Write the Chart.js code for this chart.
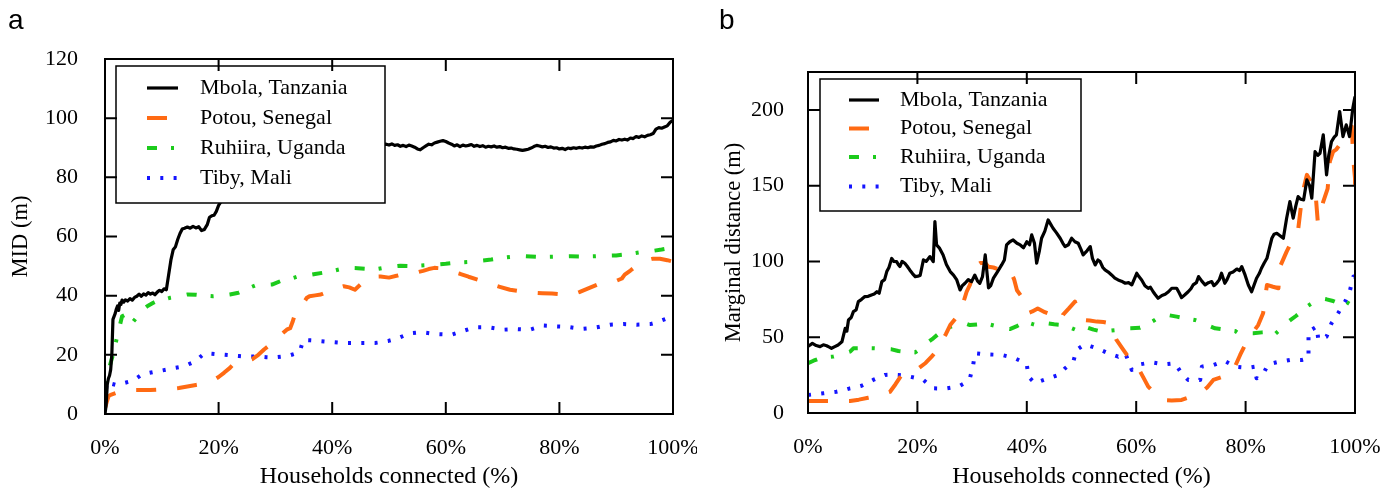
<!DOCTYPE html>
<html>
<head>
<meta charset="utf-8">
<script src="https://cdn.jsdelivr.net/npm/chart.js@4.4.1/dist/chart.umd.min.js"></script>
<style>
  body { margin: 0; background: #fff; }
  #wrap { position: relative; width: 1394px; height: 491px; }
  canvas { position: absolute; top: 0; }
  .tag { position: absolute; font: 28px "Liberation Sans", Arial, sans-serif; line-height: 28px; color: #000; }
</style>
</head>
<body>
<div id="wrap">
  <canvas id="chartA" width="697" height="491" style="left:0"></canvas>
  <canvas id="chartB" width="697" height="491" style="left:697px"></canvas>
  <div class="tag" style="left:8px;top:6px">a</div>
  <div class="tag" style="left:719px;top:6px">b</div>
</div>
<script>
// series names
var seriesNames = ["Mbola, Tanzania", "Potou, Senegal", "Ruhiira, Uganda", "Tiby, Mali"];

// x tick values (households connected, %)
var xTicks = [0, 20, 40, 60, 80, 100];
var yTicksA = [0, 20, 40, 60, 80, 100, 120];
var yTicksB = [0, 50, 100, 150, 200];

// ---- panel a : MID (m) ----
var mbolaA_x = [0,0.2,0.4,0.6,0.8,1.0,1.2,1.4,1.6,1.8,2.0,2.2,2.4,2.6,2.8,3.0,3.3,3.6,4.0,4.4,4.8,5.2,5.6,6.0,6.4,6.8,7.2,7.6,8.0,8.4,8.8,9.2,9.6,10.0,10.4,10.8,11.2,11.6,12.0,12.4,12.8,13.2,13.6,14.0,14.5,15,15.5,16,16.5,17,17.5,18,18.4,18.8,19.2,19.6,20,20.5,21,22,25,30,35,40,45,48,
  49.5,50,50.5,51,51.5,52,52.5,53,53.5,54,54.5,55,55.5,56,56.5,57,57.5,58,58.5,59,59.5,60,60.5,61,61.5,62,62.5,63,63.5,64,64.5,65,65.5,66,66.5,67,67.5,68,68.5,69,69.5,70,70.5,71,71.5,72,72.5,73,73.5,74,74.5,75,75.5,76,76.5,77,77.5,78,78.5,79,79.5,80,80.5,81,81.5,82,82.5,83,83.5,84,84.5,85,85.5,86,86.5,87,87.5,88,88.5,89,89.5,90,90.5,91,91.5,92,92.5,93,93.5,94,94.5,95,95.5,96,96.5,97,97.5,98,98.5,99,99.5,100];
var mbolaA_y = [0,3,10,12,13,15,20,32,33,34,35.5,36.5,35,37.5,37,38.5,37.8,38.6,38.2,39,38.5,39.4,39.8,40.5,39.8,40.6,40.2,41,40.5,40.9,40.3,41.2,41.8,41.4,42.3,42,47,52,55.5,56.5,59,61,62.5,62.8,63.2,62.8,63.4,62.9,63.3,62,62.4,64,66.5,67,67.2,68.5,70.5,72,74,75.5,78,83,86,88,90,91,
  91.2,90.9,91.3,90.8,91,90.5,90.8,90.4,90.9,90.6,90.2,89.6,89.3,90,90.6,91.2,91,91.6,91.9,92.2,92.4,92.1,91.6,91.2,90.6,91,90.4,90.9,90.6,90.8,91.1,90.5,90.8,90.4,90.7,90.2,90.5,90.3,90.6,90.2,90.4,90,90.2,89.8,89.9,89.6,89.5,89.3,89.1,89.3,89.5,89.9,90.4,90.8,90.6,90.3,90.5,90.1,90.3,89.9,90,89.6,89.8,89.4,89.9,89.7,90,89.8,90.1,89.9,90.2,90,90.3,90.2,90.6,90.8,91.2,91.4,91.8,92,92.5,92.3,92.8,92.6,92.9,92.6,93.3,93.1,93.8,93.5,94,93.7,94.2,94.4,94.8,96.3,96.8,96.6,97,97.4,98.6,99.3];

var potouA_x = [0,0.3,0.6,1,2,3,4,5,6,8,9,10,11.5,13,14.5,16,17.5,19,20,21,22,22.5,23.5,24.5,25.5,26,27,28,29,30,31,32,32.6,33,33.5,34.2,35,35.5,36,37,38,39,40.5,42,43,44,45,46,47,48.5,50,51.5,53,54,55,56,57,58,59.5,61,62.5,64,66,67.8,69.5,71.3,73,75,77,78.7,80.5,82.2,83.5,85.4,87,88.6,90,91,91.5,92.5,93.5,94.5,95.5,96.5,97.7,99,100];
var potouA_y = [2,4,5.9,6.5,7.2,7.6,7.9,8.1,8.1,8.1,8.2,8.3,8.5,8.8,9.3,9.8,10.3,11.3,12.5,14,15.6,16.6,17.5,18,18.3,18.6,20,21.8,23.3,24.5,26.8,28.5,29,31,34,36,37.6,39.2,39.8,40.1,40.4,41.2,42.4,43.2,42.8,42,43.8,45.3,46.4,46.5,46.1,46.8,47.6,48,47.9,48.4,49,49.4,49.2,48.2,47.4,46.4,45.2,44,43,42,41.5,41,40.8,40.7,40.4,40.3,41.2,42.7,44,44.8,45,45.8,47.1,48.5,50,51.2,52,52.5,52.5,52,51.5];

var ruhiiraA_x = [0,0.3,0.8,1.5,2,2.5,3,3.5,4,4.5,5,5.7,6.5,7.5,8.5,9.5,10.5,11.5,13,14.5,16,17.5,19,20.5,22,23.5,25,26.5,28,29.5,31,32.5,34,35.5,37,38.5,40,41.5,43,44.5,46,47.5,49,50.5,52,53.5,55,56.5,58,60,62,64,66,68,70,72,74,76,78,80,82,84,86,88,90,92,94,96,98,100];
var ruhiiraA_y = [2,11.5,16,20.7,25,29,33,33.5,32,30.8,31.3,33,35,36.5,37.6,38.5,38.8,39.3,39.8,40.4,40.3,40,39.8,40,40.4,41,42.3,43.5,43.6,43.8,45,45.6,46.5,46.8,47.3,47.8,48.3,49,49.4,49.3,49.1,48.9,49.4,49.8,50.1,50,50.1,50.3,50.5,50.8,51.2,51.4,51.8,52.2,52.8,53.2,53.3,53.1,53.1,53.2,53.3,53.2,53.3,53.5,53.6,54,54.6,55,55.6,56.3];

var tibyA_x = [0,0.3,1,2,3,4.4,5.5,6.4,7.5,8.8,10,11.1,12.3,13.5,14.7,15.8,16.7,17.6,18.8,19.9,21,22.3,23.6,24.9,26,27.3,28.4,29.6,31,32.3,33.5,34.3,34.9,36.2,37.6,38.8,39.9,41.2,42.5,43.7,44.9,46.2,47.5,48.7,49.9,51,51.9,52.8,53.7,54.8,56,57.2,58.4,59.7,61,62,63.1,64.1,65.1,66.3,67.5,68.8,70.1,71.3,72.5,73.6,74.8,76,77.2,78.3,79.5,80.7,81.9,83,84.2,85.4,86.6,87.8,88.9,90.1,91.3,92.5,93.6,94.8,96,97,98,99,100];
var tibyA_y = [4,10.9,10.3,9.8,10.3,11,12,13.2,13.8,14.3,14.7,15.1,15.6,16,16.8,17.7,19.2,20.6,20.4,20.2,20,19.8,19.6,19.4,19.4,19.4,19.2,19.1,19.4,19.7,20.4,21.1,25,24.9,24.7,24.5,24.3,24.1,24,24,24,24,24,24.3,24.7,25.3,25.9,26.6,27.3,27.5,27.6,27.3,27,26.9,26.8,27.4,28.1,28.7,29.3,29.3,29.3,28.9,28.5,28.6,28.7,28.6,28.5,29.2,29.9,29.8,29.6,29.5,29.3,29,28.8,29,29.3,29.8,30.2,30.3,30.4,30.3,30.2,30.3,30.4,30.9,31.6,32.3,33];

// ---- panel b : marginal distance (m) ----
var mbolaB_x = [0,0.4,0.8,1.5,2.2,2.8,3.4,3.9,4.3,4.9,5.5,6.2,6.8,7.1,7.4,7.9,8.3,8.8,9.2,9.8,10.4,11,11.6,12.1,12.6,13,13.5,14,14.4,14.8,15.3,15.7,16.2,16.5,16.8,17.2,17.7,18.1,18.6,19.1,19.6,20.1,20.5,21.1,21.6,22.3,22.9,23.2,23.5,24,24.7,25.3,26,26.6,27.2,27.8,28.2,28.7,29.3,29.9,30.5,31,31.4,31.9,32.4,33,33.4,33.9,34.6,35.4,35.9,36.3,36.9,37.5,38.2,38.8,39.4,40,40.5,40.9,41.4,41.8,42.3,42.7,43.3,43.9,44.3,44.8,45.4,46.1,46.6,47,47.6,48.2,48.8,49.4,49.9,50.3,51,51.6,52,52.5,53,53.4,53.9,54.3,54.9,55.5,56.1,56.7,57.3,58,58.6,59.2,60.1,60.5,61,61.6,62.2,62.6,63.1,63.5,64,64.7,65.3,65.9,66.5,67.4,67.9,68.3,68.9,69.5,70,70.4,71,71.4,72,72.6,73.2,73.8,74.2,74.7,75.2,75.6,76.2,76.6,77.1,77.7,78.4,78.9,79.3,79.9,80.5,81.1,81.5,82,82.5,82.9,83.4,83.9,84.3,84.8,85.2,85.7,86.3,86.9,87.5,88.1,88.7,89.2,89.6,90.1,90.6,91.2,91.7,92.1,92.7,93.2,93.6,94.2,94.8,95.2,95.7,96.2,96.6,97.2,97.8,98.4,99,99.6,100];
var mbolaB_y = [44,44.9,46,44.5,43.8,45,44.4,43.5,42.7,43.8,44.9,47,55.9,54,61.4,63,66.9,68,73.5,75,76.8,77,77.9,78.5,80,79,86.7,88,93.3,96,102,100,99.9,98,96.6,100,98.8,97,94.4,92,90,90.3,90.7,101,100,103.2,99.9,126.3,110.9,109,104.3,98,93.3,91,87.8,81.2,84,85.6,88,86.7,91,87,85.6,90,104.3,82.5,84,89,93,97.7,101,110.9,113,114.2,112,110.9,109,113,111,117.5,112,98.8,107,115.3,120,127.4,125,121.9,119,115.3,112,109.8,111,115.3,113,112,108,104.3,107,109.8,102,97.7,101,99.9,96,94.4,93,91.1,89,87.8,87,85.6,86,84.5,92.2,90,87.8,84,82.3,83,80,78,75.7,77.5,78.3,80,82.3,82.3,79,76.1,78,80,82,84.5,86,90,87,84.5,86,86.7,84,85.6,88,92.2,85.6,88,92.2,93,95,94,96.6,91.1,84.5,80,84,88.9,92,95.5,99,102.1,108,115.3,118,118.6,117,115.3,128.5,139.5,128.5,137,142.8,141,140.6,153.8,150,141.7,172.5,170,171.4,183.5,157.1,170,179.1,182,183.5,198.9,182.4,190.1,182.4,201.1,208.8];

var potouB_x = [0,2,3.7,5.5,7.7,9.3,11,13,15,16,17.1,18.5,20.2,21.5,22.6,23.5,24.4,25.2,26,26.9,27.8,28.4,29,29.6,30.5,31.5,32.4,33,33.9,34.7,35.7,36.5,37.2,37.7,38.2,39,39.7,40.3,41,42,43.3,44.6,45.5,46.4,46.6,47.7,48.8,49.5,50.3,51.5,52.8,54,55.2,55.8,56.4,57.4,58.3,59.3,60.4,61.3,62.2,63.4,64.7,66.5,68.3,70,71.7,73,74.1,75.8,77.5,79,80.5,81.4,82.3,83.2,83.9,85,86,86.3,87.5,88.4,89,89.6,90.4,91.2,91.9,92.7,93.2,94.2,95,95.4,96,96.6,97.2,97.8,98.6,99.4,99.7,100,100,100];
var potouB_y = [8,7.9,7.9,7.9,7.9,8.8,10.1,11.5,14,19,25.1,27.5,29.5,33,37.2,41,47,52,58,62,66.9,73,80,84.5,96.6,99,99,96.5,96,95,96.6,94,92.2,88,81,77,73.5,66,67,69,66.5,64.7,63,61.4,64.7,69,73.5,67,61.4,61,60.3,60,59.2,54,48.2,43,38.3,34,29.5,23.5,17.4,13,8.6,8.3,8.6,10.8,13,17,21.8,24,26.2,38.3,49.3,53.5,58,65.8,84.5,83.3,82.3,96.6,106.5,113,117,120.8,145,157.1,153,149,126,139.5,148,166,172.5,174,177,182,186,189,167,155,150,139];

var ruhiiraB_x = [0,1,2.2,3.4,4.6,6,7.7,8.3,10,11.9,13.6,15.3,16.5,18,19.6,20.8,22,22.9,24.7,26.5,28.7,29.6,31,32.4,34.2,36,36.9,38.3,39.7,41.2,42.7,43.6,45,46.7,48.2,49.7,50.6,52.2,53.7,55,56.4,57.6,59,60.7,62,63.4,64.7,66,67.4,69,70.7,71.7,73,74.4,76.2,78.1,78.7,80,81.4,83,84.8,85.4,86.6,87.8,89.2,90.6,91.2,92.4,93.6,94.8,96,97,97.9,99,100];
var ruhiiraB_y = [32.8,34.5,36.1,36.8,37.2,38.5,40.5,42.7,42.8,42.7,42.4,42,40.9,40.3,40,43,47,49.3,54.8,57.5,59.2,58,58.5,59.2,57.5,55.9,55.4,57.5,60.3,58.5,57,59.2,58.5,58,56,53.7,57,55,53.7,54.3,54.8,55.9,56,56.3,58.5,61.4,64.7,64.5,63.6,62.5,61.4,60.3,58,55.9,55,54.1,52.6,52.6,52.6,53.2,53.7,52.1,56,60.3,64,68,70.2,73,75.7,75,73.9,72.4,74.6,72,69.5];

var tibyB_x = [0,1.5,2.8,4,5.2,6.5,7.7,8.8,9.8,10.9,11.9,13,14.1,15.3,16.5,17.6,18.6,19.9,21.1,22,22.9,24.1,25.4,26.6,27.8,28.8,29.6,30.2,30.5,31.6,32.7,34,35.4,36.6,37.8,38.9,40,40.3,41.5,42.5,43.6,44.7,45.8,47,48.5,49.1,50.6,51.7,52.8,53.9,54.9,56.7,58,59.2,60.7,61.8,62.8,64,65.3,67.1,68.3,69.5,70.6,71.7,72,73,74.1,75.1,76.2,77.1,78.1,79.3,80.5,81.7,82,83.2,84.1,84.9,85.7,86.9,88.1,89.2,90.3,91.5,91.5,91.5,93,93.3,94.8,95.7,96.9,98.2,99.1,99.7,100];
var tibyB_y = [11.9,12.5,13,13.5,14,15,16.3,17,18,19.8,21.8,23.5,25.1,25.3,25.1,24.6,24,23,21.8,19,16.3,16.2,16.3,17,18,20,22.9,31.7,39.4,39,38.7,38.5,38.3,37.3,36.1,34.3,32.1,24,19.6,21,22.4,23.7,25.1,29.5,33.9,41.6,45.3,44,42.7,41,39.4,37.2,39.4,28.4,32.1,32.8,33.5,32.8,32.1,32.8,26.2,21.8,21.8,21.8,30.6,31.2,31.7,33,34.3,32.5,30.6,30.2,29.9,30.6,22.9,25.5,32.1,32.8,33.5,34.2,35,35,35,36.1,43.4,53.7,57,48.2,50.4,59.2,65.8,73.5,81.2,90,90];

// ---- styling ----
var serif = "'Liberation Serif', 'Times New Roman', serif";
var colors = ["#000000", "#ff6a13", "#1ccb1c", "#1414ff"];
var dashes = [[], [20, 21], [10, 14, 3, 16], [3, 10.3]];
var widths = [3.2, 4, 4, 4];

function pts(xs, ys) {
  return xs.map(function (x, i) { return { x: x, y: ys[i] }; });
}

function makeDatasets(xsList, ysList) {
  return xsList.map(function (xs, i) {
    return {
      label: seriesNames[i],
      data: pts(xs, ysList[i]),
      borderColor: colors[i],
      borderWidth: widths[i],
      borderDash: dashes[i],
      borderCapStyle: "butt",
      borderJoinStyle: "round",
      pointRadius: 0,
      tension: 0,
      fill: false
    };
  });
}

// opaque legend box drawn inside the plot
var boxLegend = {
  id: "boxLegend",
  afterDatasetsDraw: function (chart, args, o) {
    var ctx = chart.ctx;
    ctx.save();
    ctx.fillStyle = "#fff";
    ctx.fillRect(o.left, o.top, o.width, o.height);
    ctx.lineWidth = 1.5;
    ctx.strokeStyle = "#000";
    ctx.strokeRect(o.left, o.top, o.width, o.height);
    chart.data.datasets.forEach(function (ds, i) {
      var y = o.rows[i];
      ctx.beginPath();
      ctx.setLineDash(ds.borderDash);
      ctx.lineCap = "butt";
      ctx.lineWidth = ds.borderWidth;
      ctx.strokeStyle = ds.borderColor;
      ctx.moveTo(o.sampleX, y);
      ctx.lineTo(o.sampleX + o.sampleW, y);
      ctx.stroke();
      ctx.setLineDash([]);
      ctx.fillStyle = "#000";
      ctx.font = "22px " + serif;
      ctx.textBaseline = "middle";
      ctx.textAlign = "left";
      ctx.fillText(ds.label, o.textX, y);
    });
    ctx.restore();
  }
};

// full frame with inward ticks on all four sides
var frameTicks = {
  id: "frameTicks",
  afterDatasetsDraw: function (chart, args, o) {
    var a = chart.chartArea, ctx = chart.ctx;
    var sx = chart.scales.x, sy = chart.scales.y;
    ctx.save();
    ctx.strokeStyle = "#000";
    ctx.lineWidth = 2;
    ctx.beginPath();
    o.xTicks.forEach(function (v) {
      var px = sx.getPixelForValue(v);
      ctx.moveTo(px, a.bottom); ctx.lineTo(px, a.bottom - 12);
      ctx.moveTo(px, a.top); ctx.lineTo(px, a.top + 12);
    });
    o.yTicks.forEach(function (v) {
      var py = sy.getPixelForValue(v);
      ctx.moveTo(a.left, py); ctx.lineTo(a.left + 12, py);
      ctx.moveTo(a.right, py); ctx.lineTo(a.right - 12, py);
    });
    ctx.stroke();
    ctx.strokeRect(a.left, a.top, a.right - a.left, a.bottom - a.top);
    ctx.restore();
  }
};

function makeChart(id, datasets, p) {
  return new Chart(document.getElementById(id), {
    type: "line",
    data: { datasets: datasets },
    plugins: [boxLegend, frameTicks],
    options: {
      responsive: false,
      animation: false,
      devicePixelRatio: 1,
      layout: { padding: { top: p.top, right: p.right, left: 0, bottom: 0 } },
      plugins: {
        legend: { display: false },
        tooltip: { enabled: false },
        boxLegend: p.legend,
        frameTicks: { xTicks: xTicks, yTicks: p.yTicks }
      },
      scales: {
        x: {
          type: "linear",
          min: 0,
          max: 100,
          afterBuildTicks: function (s) { s.ticks = xTicks.map(function (v) { return { value: v }; }); },
          ticks: {
            callback: function (v) { return v + "%"; },
            padding: 13,
            color: "#000",
            maxRotation: 0,
            autoSkip: false,
            font: { family: serif, size: 22 }
          },
          grid: { display: false },
          border: { display: false },
          title: {
            display: true,
            text: "Households connected (%)",
            color: "#000",
            font: { family: serif, size: 24 },
            padding: { top: 0, bottom: 0 }
          },
          afterFit: function (s) {
            s.height = p.xHeight;
            s.paddingLeft = 0;
            s.paddingRight = 0;
          }
        },
        y: {
          type: "linear",
          min: 0,
          max: p.yMax,
          afterBuildTicks: function (s) { s.ticks = p.yTicks.map(function (v) { return { value: v }; }); },
          ticks: {
            padding: p.yPad,
            color: "#000",
            font: { family: serif, size: 22 }
          },
          grid: { display: false },
          border: { display: false },
          title: {
            display: true,
            text: p.yTitle,
            color: "#000",
            font: { family: serif, size: 22.5 },
            padding: { top: p.yTitlePad, bottom: 0 }
          },
          afterFit: function (s) {
            s.width = p.yWidth;
            s.paddingTop = 0;
            s.paddingBottom = 0;
          }
        }
      }
    }
  });
}

makeChart("chartA",
  makeDatasets([mbolaA_x, potouA_x, ruhiiraA_x, tibyA_x], [mbolaA_y, potouA_y, ruhiiraA_y, tibyA_y]),
  {
    top: 59, right: 24, xHeight: 77, yWidth: 105, yMax: 120, yTicks: yTicksA, yPad: 19,
    yTitle: "MID (m)", yTitlePad: 8,
    legend: { left: 116, top: 66, width: 269, height: 137, rows: [88, 118, 148, 178], sampleX: 147, sampleW: 31, textX: 200 }
  });

makeChart("chartB",
  makeDatasets([mbolaB_x, potouB_x, ruhiiraB_x, tibyB_x], [mbolaB_y, potouB_y, ruhiiraB_y, tibyB_y]),
  {
    top: 72, right: 39, xHeight: 78, yWidth: 111, yMax: 225, yTicks: yTicksB, yPad: 16,
    yTitle: "Marginal distance (m)", yTitlePad: 24,
    legend: { left: 123, top: 79, width: 261, height: 132, rows: [100, 128.5, 157, 186.5], sampleX: 152, sampleW: 30, textX: 203 }
  });
</script>
</body>
</html>
